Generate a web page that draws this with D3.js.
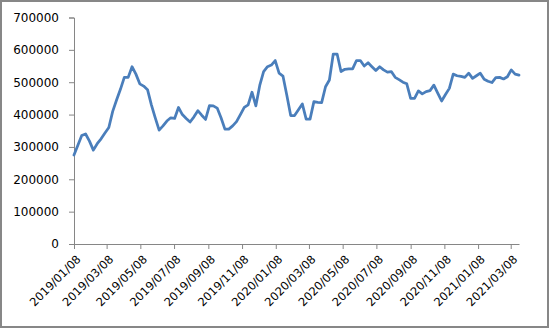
<!DOCTYPE html>
<html>
<head>
<meta charset="utf-8">
<script src="https://cdn.jsdelivr.net/npm/d3@7"></script>
<style>
  html, body { margin: 0; padding: 0; background: #fff; }
  svg { display: block; }
  text { font-family: "DejaVu Sans", sans-serif; font-size: 12px; fill: #000; }
</style>
</head>
<body>
<svg id="chart" width="550" height="329"></svg>
<script>
// ---- data ----
const startDate = "2019/01/08";   // first weekly observation
const endDate = "2021/03/23";     // last weekly observation
const values = [
  275000, 305000, 335000, 340000, 318000, 290000, 310000, 325000, 343000, 360000,
  410000, 445000, 478000, 515000, 515000, 548000, 525000, 495000, 488000, 477000,
  430000, 390000, 352000, 365000, 380000, 390000, 388000, 422000, 400000, 388000,
  377000, 393000, 412000, 398000, 385000, 428000, 427000, 420000, 390000, 355000,
  355000, 365000, 378000, 400000, 422000, 430000, 469000, 427000, 490000, 533000,
  548000, 553000, 567000, 528000, 519000, 460000, 397000, 397000, 415000, 433000,
  386000, 386000, 440000, 438000, 437000, 486000, 507000, 587000, 587000, 533000,
  540000, 541000, 541000, 567000, 567000, 550000, 560000, 548000, 536000, 548000,
  538000, 531000, 533000, 515000, 508000, 500000, 495000, 450000, 450000, 473000,
  464000, 471000, 474000, 491000, 466000, 442000, 462000, 481000, 525000, 520000,
  518000, 515000, 528000, 512000, 520000, 528000, 509000, 503000, 499000, 514000,
  515000, 510000, 517000, 538000, 525000, 522000
];
const yTicks = [0, 100000, 200000, 300000, 400000, 500000, 600000, 700000];
const xTickLabels = [
  "2019/01/08", "2019/03/08", "2019/05/08", "2019/07/08", "2019/09/08", "2019/11/08",
  "2020/01/08", "2020/03/08", "2020/05/08", "2020/07/08", "2020/09/08", "2020/11/08",
  "2021/01/08", "2021/03/08"
];

// ---- drawing ----
const parse = d3.timeParse("%Y/%m/%d");
const fmt = d3.timeFormat("%Y/%m/%d");
const t0 = parse(startDate);
const data = values.map((v, i) => ({ date: d3.timeDay.offset(t0, 7 * i), value: v }));

const svg = d3.select("#chart");

// outer frame
svg.append("rect")
  .attr("x", 1).attr("y", 1).attr("width", 547).attr("height", 326)
  .attr("fill", "#fff").attr("stroke", "#878787").attr("stroke-width", 2);

const x = d3.scaleTime().domain([t0, parse(endDate)]).range([74, 519]);
const y = d3.scaleLinear().domain([0, 700000]).range([244, 17.5]);

// y axis
const yAxis = svg.append("g").attr("transform", "translate(74,0)")
  .call(d3.axisLeft(y).tickValues(yTicks).tickSize(5).tickPadding(10).tickFormat(d3.format("d")));
yAxis.select(".domain").attr("stroke", "#868686");
yAxis.selectAll(".tick line").attr("stroke", "#868686");
yAxis.selectAll("text").style("font-size", "12px").attr("fill", "#000");

// x axis
const xAxis = svg.append("g").attr("transform", "translate(0,244)")
  .call(d3.axisBottom(x).tickValues(xTickLabels.map(parse)).tickSize(5).tickSizeOuter(0).tickFormat(fmt));
xAxis.select(".domain").attr("stroke", "#868686");
xAxis.selectAll(".tick line").attr("stroke", "#868686");
xAxis.selectAll("text")
  .attr("text-anchor", "end")
  .attr("y", 0).attr("dy", "0")
  .attr("transform", "translate(7,16) rotate(-45)")
  .style("font-size", "11.5px").attr("fill", "#000");

// line
const line = d3.line().x(d => x(d.date)).y(d => y(d.value));
svg.append("path").datum(data)
  .attr("d", line)
  .attr("fill", "none")
  .attr("stroke", "#4a7ebb")
  .attr("stroke-width", 2.75)
  .attr("stroke-linejoin", "round")
  .attr("stroke-linecap", "round");
</script>
</body>
</html>
